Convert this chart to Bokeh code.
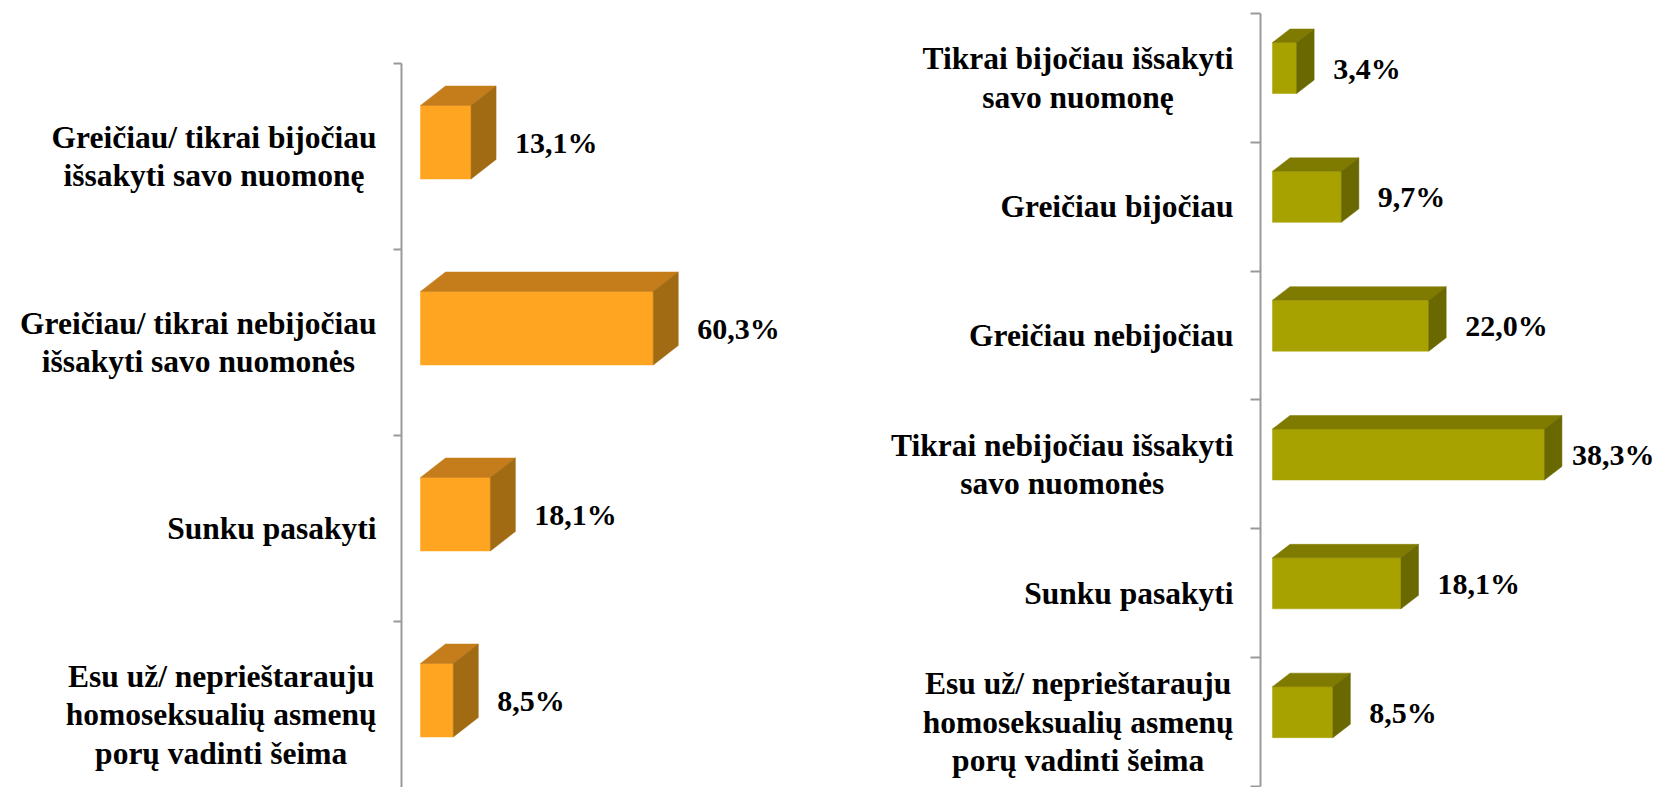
from bokeh.plotting import figure
from bokeh.layouts import row
from bokeh.models import Range1d, LinearAxis, FixedTicker
from bokeh.core.properties import value
from bokeh.embed import file_html
from bokeh.resources import INLINE

# ---------------- data ----------------
left_categories = [
    "Greičiau/ tikrai bijočiau\nišsakyti savo nuomonę",
    "Greičiau/ tikrai nebijočiau\nišsakyti savo nuomonės",
    "Sunku pasakyti",
    "Esu už/ neprieštarauju\nhomoseksualių asmenų\nporų vadinti šeima",
]
left_values = [13.1, 60.3, 18.1, 8.5]

right_categories = [
    "Tikrai bijočiau išsakyti\nsavo nuomonę",
    "Greičiau bijočiau",
    "Greičiau nebijočiau",
    "Tikrai nebijočiau išsakyti\nsavo nuomonės",
    "Sunku pasakyti",
    "Esu už/ neprieštarauju\nhomoseksualių asmenų\nporų vadinti šeima",
]
right_values = [3.4, 9.7, 22.0, 38.3, 18.1, 8.5]

FONT = value("Liberation Serif")
FIG_H = 787
PAGE_Y0 = 0
VAL_FS = 30.0


def est_width(s, fs):
    w = 0.0
    for ch in s:
        w += {",": 0.25, "%": 1.0}.get(ch, 0.5)
    return w * fs


def make_panel(cats, vals, front_c, top_c, side_c, fig_w, origin_x, zero_x, px_pct,
               axis_x, top_tick_y, band_px, ft_px, fb_px, ddx_px, ddy_px,
               label_right_x, gap_px, tick_len):
    n = len(cats)
    x_start = -(zero_x - origin_x) / px_pct
    x_end = x_start + fig_w / px_pct
    y_end = -(top_tick_y - PAGE_Y0) / band_px
    y_start = y_end + FIG_H / band_px
    p = figure(width=fig_w, height=FIG_H,
               x_range=Range1d(x_start, x_end), y_range=Range1d(y_start, y_end),
               x_axis_type=None, y_axis_type=None,
               output_backend="svg", toolbar_location=None, min_border=0)
    p.outline_line_color = None
    p.background_fill_color = "white"
    p.border_fill_color = "white"

    ticks = list(range(n + 1))
    axis = LinearAxis(fixed_location=(axis_x - zero_x) / px_pct, bounds=(0, n),
                      ticker=FixedTicker(ticks=ticks))
    axis.axis_line_color = "#9a9a9a"
    axis.axis_line_width = 2
    axis.major_tick_line_color = "#9a9a9a"
    axis.major_tick_line_width = 2
    axis.major_tick_in = 0
    axis.major_tick_out = tick_len
    axis.minor_tick_line_color = None
    axis.major_label_overrides = {t: "" for t in ticks}
    p.add_layout(axis, "left")

    ddx = ddx_px / px_pct
    ddy = ddy_px / band_px
    tops = [i + ft_px / band_px for i in range(n)]
    bots = [i + fb_px / band_px for i in range(n)]

    # front faces
    p.quad(left=[0] * n, right=vals, top=tops, bottom=bots,
           fill_color=front_c, line_color=front_c, line_width=0.5)
    # top and side faces
    xs_t, ys_t, xs_s, ys_s = [], [], [], []
    for v, t, b in zip(vals, tops, bots):
        xs_t.append([0, v, v + ddx, ddx])
        ys_t.append([t, t, t - ddy, t - ddy])
        xs_s.append([v, v + ddx, v + ddx, v])
        ys_s.append([t, t - ddy, b - ddy, b])
    p.patches(xs_t, ys_t, fill_color=top_c, line_color=top_c, line_width=0.5)
    p.patches(xs_s, ys_s, fill_color=side_c, line_color=side_c, line_width=0.5)

    # value labels (kept inside the figure's right edge)
    labels = [f"{v:.1f}".replace(".", ",") + "%" for v in vals]
    lab_x = []
    for v, s in zip(vals, labels):
        xs = v + (ddx_px + gap_px) / px_pct
        xmax = x_end - (est_width(s, VAL_FS) + 2) / px_pct
        lab_x.append(min(xs, xmax))
    p.text(x=lab_x, y=[(t + b) / 2 for t, b in zip(tops, bots)],
           text=labels, text_font=FONT, text_font_style="bold",
           text_font_size=f"{VAL_FS}px", text_color="black",
           text_align="left", text_baseline="middle")

    # category labels
    lx = (label_right_x - zero_x) / px_pct
    p.text(x=[lx] * n, y=[i + 0.5 for i in range(n)], text=cats,
           text_font=FONT, text_font_style="bold", text_font_size="31.5px",
           text_color="black", text_align="center", text_baseline="middle",
           anchor="center_right", text_line_height=1.1)
    return p


p1 = make_panel(left_categories, left_values, "#FFA521", "#C47D1A", "#A16B14",
                fig_w=832, origin_x=0, zero_x=420, px_pct=3.86, axis_x=401,
                top_tick_y=63, band_px=186, ft_px=42, fb_px=115.5,
                ddx_px=25, ddy_px=19.5, label_right_x=376, gap_px=19, tick_len=8)
p2 = make_panel(right_categories, right_values, "#A8A200", "#7F7B00", "#6A6800",
                fig_w=824, origin_x=832, zero_x=1272, px_pct=7.1, axis_x=1260,
                top_tick_y=13, band_px=128.83, ft_px=29, fb_px=80,
                ddx_px=17.5, ddy_px=13.5, label_right_x=1233, gap_px=19, tick_len=10)

layout = row(p1, p2)
open("out.html", "w").write(file_html(layout, INLINE))
